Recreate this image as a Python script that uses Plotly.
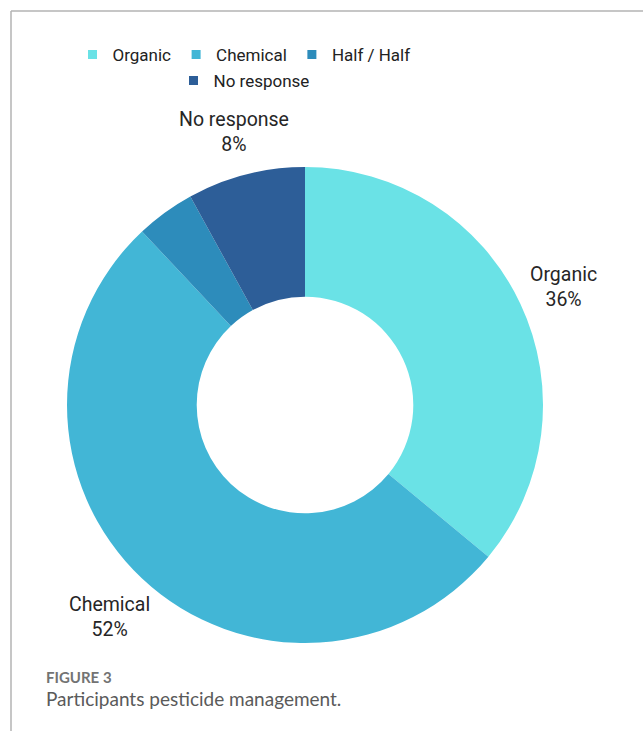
import math
import plotly.graph_objects as go

# Pesticide management responses (percent of participants)
categories = ["Organic", "Chemical", "Half / Half", "No response"]
shares = [36, 52, 4, 8]
colors = ["#6AE2E6", "#42B6D6", "#2D8CBB", "#2D5E98"]
labelled = ["Organic", "Chemical", "No response"]
legend_rows = [["Organic", "Chemical", "Half / Half"], ["No response"]]

W, H = 643, 731
cx, cy, R = 305, 405, 238  # donut centre and radius in pixels

fig = go.Figure()
fig.add_trace(go.Pie(
    labels=categories,
    values=shares,
    marker=dict(colors=colors, line=dict(width=0)),
    hole=0.455,
    sort=False,
    direction="clockwise",
    rotation=0,
    textinfo="none",
    hoverinfo="label+percent",
    domain=dict(x=[(cx - R) / W, (cx + R) / W],
                y=[1 - (cy + R) / H, 1 - (cy - R) / H]),
    showlegend=False,
))

# Legend entries: square swatches, split over two centred rows
for cat, col in zip(categories, colors):
    row = 0 if cat in legend_rows[0] else 1
    fig.add_trace(go.Scatter(
        x=[None], y=[None], mode="markers", name=cat,
        marker=dict(symbol="square", size=9, color=col),
        legend="legend" if row == 0 else "legend2",
        hoverinfo="skip",
    ))

# Outside labels placed along the middle angle of each slice
total = sum(shares)
start = 0.0
for cat, val in zip(categories, shares):
    mid = (start + val / 2) / total * 2 * math.pi
    start += val
    if cat not in labelled:
        continue
    r = R * 1.2
    px = cx + r * math.sin(mid)
    py = cy - r * math.cos(mid) + 4
    fig.add_annotation(
        x=px / W, y=1 - py / H, xref="paper", yref="paper",
        xanchor="center", yanchor="middle",
        text=f"{cat}<br>{round(val / total * 100)}%",
        showarrow=False, align="center",
        font=dict(family="Roboto", size=19.5, color="#262626"),
    )

# Caption
fig.add_annotation(x=44 / W, y=1 - 677 / H, xref="paper", yref="paper",
                   xanchor="left", yanchor="middle", showarrow=False,
                   text="<b>FIGURE 3</b>",
                   font=dict(family="Lato", size=15, color="#737373"))
fig.add_annotation(x=44 / W, y=1 - 698 / H, xref="paper", yref="paper",
                   xanchor="left", yanchor="middle", showarrow=False,
                   text="Participants pesticide management.",
                   font=dict(family="Lato", size=19, color="#5a5a5a"))

# Frame lines (top and left)
fig.add_shape(type="line", xref="paper", yref="paper",
              x0=11 / W, x1=1, y0=1 - 11 / H, y1=1 - 11 / H,
              line=dict(color="#B3B3B3", width=1.5))
fig.add_shape(type="line", xref="paper", yref="paper",
              x0=11 / W, x1=11 / W, y0=0, y1=1 - 11 / H,
              line=dict(color="#B3B3B3", width=1.5))

legend_font = dict(family="Roboto", size=17, color="#222222")
fig.update_layout(
    width=W, height=H,
    margin=dict(l=0, r=0, t=0, b=0),
    paper_bgcolor="white",
    plot_bgcolor="white",
    xaxis=dict(visible=False),
    yaxis=dict(visible=False),
    showlegend=True,
    legend=dict(
        orientation="h", x=244 / W, xanchor="center",
        y=1 - 55 / H, yanchor="middle",
        font=legend_font, bgcolor="rgba(0,0,0,0)",
        itemclick=False, traceorder="normal", itemwidth=30,
    ),
    legend2=dict(
        orientation="h", x=244 / W, xanchor="center",
        y=1 - 81 / H, yanchor="middle",
        font=legend_font, bgcolor="rgba(0,0,0,0)",
        itemclick=False, traceorder="normal", itemwidth=30,
    ),
)

fig.write_html("out.html")
